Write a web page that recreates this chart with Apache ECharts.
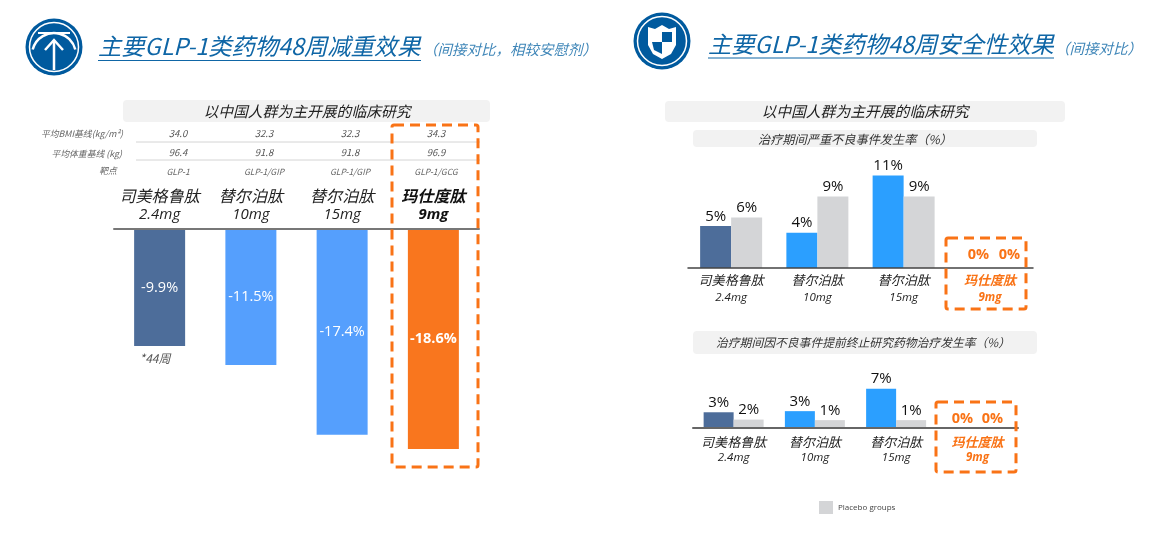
<html lang="zh">
<head>
  <meta charset="UTF-8">
  <title>GLP-1</title>
  <script src="https://cdn.jsdelivr.net/npm/echarts@6/dist/echarts.min.js"></script>
  <style>
    html, body { margin: 0; padding: 0; background: #fff; }
    #chart { width: 1149px; height: 542px; }
  </style>
</head>
<body>
  <div id="chart"></div>
  <script>
    const drugs = ['司美格鲁肽', '替尔泊肽', '替尔泊肽', '玛仕度肽'];
    const doses = ['2.4mg', '10mg', '15mg', '9mg'];

    // left chart: weight change at week 48
    const weightLoss = [-9.9, -11.5, -17.4, -18.6];
    const bmiBase = ['34.0', '32.3', '32.3', '34.3'];
    const weightBase = ['96.4', '91.8', '91.8', '96.9'];
    const targets = ['GLP-1', 'GLP-1/GIP', 'GLP-1/GIP', 'GLP-1/GCG'];

    // right charts: bar heights, labels are rounded
    const saeDrug = [5.0, 4.2, 11.0, 0];
    const saePlacebo = [6.0, 8.5, 8.5, 0];
    const stopDrug = [2.8, 3.0, 7.0, 0];
    const stopPlacebo = [1.5, 1.4, 1.4, 0];

    const orange = '#f97316';
    const blue = '#0f66a6';
    const navy = '#005a9e';
    const cn = '"Noto Sans CJK SC", "Open Sans", sans-serif';
    const num = '"Open Sans", "Noto Sans CJK SC", sans-serif';

    let myChart = echarts.init(document.getElementById('chart'));

    function txt(x, y, text, size, color, align, extra) {
      return {
        type: 'text', x: x, y: y, silent: true,
        style: Object.assign({
          text: text, fontSize: size, fill: color, fontStyle: 'italic',
          fontFamily: cn, align: align || 'center', verticalAlign: 'middle'
        }, extra || {})
      };
    }
    function band(x, y, w, h) {
      return { type: 'rect', silent: true, z: -1, shape: { x: x, y: y, width: w, height: h, r: 4 }, style: { fill: '#f2f2f2' } };
    }
    function dashBox(x, y, w, h) {
      return {
        type: 'rect', silent: true, z: 20,
        shape: { x: x, y: y, width: w, height: h, r: 2 },
        style: { fill: 'none', stroke: orange, lineWidth: 3, lineDash: [10, 6] }
      };
    }
    function hline(x1, x2, y, color, width) {
      return { type: 'line', silent: true, shape: { x1: x1, y1: y, x2: x2, y2: y }, style: { stroke: color, lineWidth: width } };
    }
    function circ(cx, cy, r, fill, stroke, width) {
      return { type: 'circle', silent: true, shape: { cx: cx, cy: cy, r: r }, style: { fill: fill, stroke: stroke, lineWidth: width || 0 } };
    }

    const columnX = [178, 264, 350, 436];
    let graphics = [
      // left icon
      circ(54, 47, 28.5, navy),
      circ(54, 47, 24.5, 'none', '#fff', 1.5),
      { type: 'arc', silent: true, shape: { cx: 54, cy: 55, r: 22, startAngle: Math.PI * 1.08, endAngle: Math.PI * 1.92 }, style: { fill: 'none', stroke: '#fff', lineWidth: 2.5 } },
      { type: 'arc', silent: true, shape: { cx: 54, cy: 55, r: 16, startAngle: Math.PI * 1.05, endAngle: Math.PI * 1.95 }, style: { fill: 'none', stroke: navy, lineWidth: 1 } },
      hline(38, 70, 33, '#fff', 2),
      { type: 'line', silent: true, shape: { x1: 54, y1: 40, x2: 54, y2: 70 }, style: { stroke: '#fff', lineWidth: 2.5 } },
      { type: 'polyline', silent: true, shape: { points: [[45, 50], [54, 40], [63, 50]] }, style: { fill: 'none', stroke: '#fff', lineWidth: 2.5 } },
      // right icon
      circ(662, 41, 28.5, navy),
      circ(662, 41, 24.5, 'none', '#fff', 1.5),
      { type: 'polygon', silent: true, shape: { points: [[648, 27], [655, 29], [662, 25], [669, 29], [676, 27], [676, 45], [671, 54], [662, 59], [653, 54], [648, 45]] }, style: { fill: '#fff' } },
      { type: 'polygon', silent: true, shape: { points: [[662, 32], [672, 32], [672, 42], [662, 42]] }, style: { fill: navy } },
      { type: 'polygon', silent: true, shape: { points: [[652, 42], [662, 42], [662, 54], [654, 50]] }, style: { fill: navy } },
      // titles
      txt(98, 46, '主要GLP-1类药物48周减重效果', 23.3, blue, 'left'),
      hline(98, 421, 60.5, blue, 1.2),
      txt(423, 49, '（间接对比，相较安慰剂）', 14.5, '#3f86b8', 'left'),
      txt(708, 44, '主要GLP-1类药物48周安全性效果', 23.3, blue, 'left'),
      hline(708, 1054, 58, blue, 1.2),
      txt(1055, 48, '（间接对比）', 14.5, '#3f86b8', 'left'),
      // section bands
      band(123, 100, 367, 22),
      txt(307, 111, '以中国人群为主开展的临床研究', 14.8, '#222'),
      band(665, 101, 400, 21),
      txt(865, 111, '以中国人群为主开展的临床研究', 14.8, '#222'),
      band(693, 130, 344, 17),
      txt(855, 139, '治疗期间严重不良事件发生率（%）', 12.2, '#333'),
      band(693, 331, 344, 23),
      txt(863, 343, '治疗期间因不良事件提前终止研究药物治疗发生率（%）', 11.8, '#333'),
      // baseline table
      txt(123, 134, '平均BMI基线(kg/m²)', 8.8, '#666', 'right'),
      txt(122, 154, '平均体重基线 (kg)', 8.8, '#666', 'right'),
      txt(108, 171, '靶点', 8.8, '#666', 'center'),
      hline(136, 480, 142, '#d4d4d4', 1),
      hline(136, 480, 160, '#d4d4d4', 1),
      txt(155, 358, '*44周', 12, '#555'),
      // highlight boxes
      dashBox(392, 125, 86, 342),
      dashBox(946, 238, 80, 71),
      dashBox(936, 402, 80, 70)
    ];
    columnX.forEach(function (x, i) {
      graphics.push(txt(x, 133, bmiBase[i], 9.5, '#555'));
      graphics.push(txt(x, 152, weightBase[i], 9.5, '#555'));
      graphics.push(txt(x, 172, targets[i], 8.5, '#666'));
    });

    function drugLabel(size1, size2, lineH) {
      return {
        show: true,
        interval: 0,
        formatter: function (v, i) {
          let s = i === 3 ? 'h' : 'n';
          return '{' + s + '|' + drugs[i] + '}\n{' + s + 'd|' + doses[i] + '}';
        },
        rich: {
          n: { fontSize: size1, fontStyle: 'italic', fontFamily: cn, color: '#222', lineHeight: lineH },
          nd: { fontSize: size2, fontStyle: 'italic', fontFamily: num, color: '#222', lineHeight: lineH },
          h: { fontSize: size1, fontStyle: 'italic', fontWeight: 'bold', fontFamily: cn, color: 'inherit', lineHeight: lineH },
          hd: { fontSize: size2, fontStyle: 'italic', fontWeight: 'bold', fontFamily: num, color: 'inherit', lineHeight: lineH }
        }
      };
    }

    function pairSeries(idx, values, name, colors, width, zeroDist, zeroShift) {
      return {
        type: 'bar', name: name, xAxisIndex: idx, yAxisIndex: idx, barWidth: width, barGap: 0,
        itemStyle: { color: colors[0] },
        data: values.map(function (v, i) {
          let item = { value: v, itemStyle: { color: colors[i] || colors[0] } };
          if (v === 0) {
            item.label = { color: orange, fontWeight: 'bold', fontSize: 14.5, distance: zeroDist, offset: [zeroShift, 0] };
          }
          return item;
        }),
        label: {
          show: true, position: 'top', distance: 2, fontSize: 15, fontFamily: num, color: '#111',
          formatter: function (p) { return Math.round(p.value) + '%'; }
        }
      };
    }

    const axisBase = { type: 'category', data: drugs, axisTick: { show: false }, z: 5 };

    let option = {
      animation: false,
      graphic: graphics,
      legend: {
        data: ['Placebo groups'], left: 814, top: 496, icon: 'rect', itemWidth: 14, itemHeight: 13, itemGap: 5,
        textStyle: { fontSize: 8, color: '#444', fontFamily: num }, selectedMode: false
      },
      grid: [
        { left: 114, top: 229, width: 365, height: 220 },
        { left: 688, top: 168, width: 345, height: 100 },
        { left: 693, top: 378, width: 325, height: 50 }
      ],
      xAxis: [
        Object.assign({}, axisBase, {
          gridIndex: 0, position: 'top',
          axisLine: { lineStyle: { color: '#777', width: 2 } },
          axisLabel: Object.assign(drugLabel(16, 15, 19), { margin: 5, color: function (v, i) { return '#111'; } })
        }),
        Object.assign({}, axisBase, {
          gridIndex: 1,
          axisLine: { lineStyle: { color: '#444', width: 1.5 } },
          axisLabel: Object.assign(drugLabel(13, 11.5, 17), { margin: 4, color: function (v, i) { return i === 3 ? orange : '#222'; } })
        }),
        Object.assign({}, axisBase, {
          gridIndex: 2,
          axisLine: { lineStyle: { color: '#666', width: 2 } },
          axisLabel: Object.assign(drugLabel(13, 11.5, 16), { margin: 6, color: function (v, i) { return i === 3 ? orange : '#222'; } })
        })
      ],
      yAxis: [
        { type: 'value', gridIndex: 0, min: -18.6, max: 0, show: false },
        { type: 'value', gridIndex: 1, min: 0, max: 11.9, show: false },
        { type: 'value', gridIndex: 2, min: 0, max: 8.9, show: false }
      ],
      series: [
        {
          type: 'bar', xAxisIndex: 0, yAxisIndex: 0, barWidth: 51,
          data: weightLoss.map(function (v, i) {
            let item = { value: v, itemStyle: { color: ['#4d6d9a', '#559ffd', '#559ffd', '#f9761e'][i] } };
            if (i === 3) item.label = { fontWeight: 'bold' };
            return item;
          }),
          label: {
            show: true, position: 'inside', fontSize: 14.5, color: '#fff', fontFamily: num,
            formatter: function (p) { return p.value.toFixed(1) + '%'; }
          }
        },
        pairSeries(1, saeDrug, 'drug', ['#4d6d9a', '#2b9fff', '#2b9fff', '#2b9fff'], 31, 6, 4),
        pairSeries(1, saePlacebo, 'Placebo groups', ['#d4d5d7'], 31, 6, 4),
        pairSeries(2, stopDrug, 'drug', ['#4d6d9a', '#2b9fff', '#2b9fff', '#2b9fff'], 30, 2, 0),
        pairSeries(2, stopPlacebo, 'Placebo groups', ['#d4d5d7'], 30, 2, 0)
      ]
    };

    myChart.setOption(option);
  </script>
</body>
</html>
